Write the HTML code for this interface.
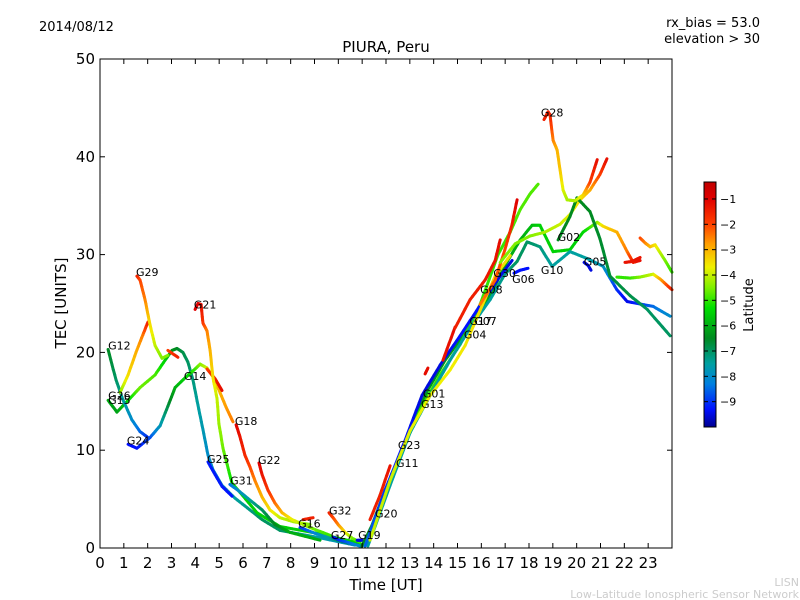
<!DOCTYPE html>
<html><head><meta charset="utf-8">
<style>
body{margin:0;background:#fff;}
svg{display:block;font-family:"DejaVu Sans","Liberation Sans",sans-serif;}
</style></head>
<body>
<svg id="chart" width="800" height="600" viewBox="0 0 800 600" xmlns="http://www.w3.org/2000/svg">
<rect x="0" y="0" width="800" height="600" fill="#fff"/>
<defs>
<linearGradient id="cbg" x1="0" y1="1" x2="0" y2="0">
<stop offset="0" stop-color="#000090"/>
<stop offset="0.072" stop-color="#0010ff"/>
<stop offset="0.176" stop-color="#0080e0"/>
<stop offset="0.259" stop-color="#00a0a0"/>
<stop offset="0.363" stop-color="#008a20"/>
<stop offset="0.487" stop-color="#00e000"/>
<stop offset="0.57" stop-color="#80f000"/>
<stop offset="0.653" stop-color="#f0f000"/>
<stop offset="0.746" stop-color="#ffa000"/>
<stop offset="0.829" stop-color="#ff4000"/>
<stop offset="0.932" stop-color="#e00000"/>
<stop offset="1" stop-color="#c00000"/>
</linearGradient>
</defs>
<text x="39" y="31" font-size="13">2014/08/12</text>
<text x="760" y="27" font-size="13" text-anchor="end">rx_bias = 53.0</text>
<text x="760" y="43" font-size="13" text-anchor="end">elevation &gt; 30</text>
<text x="386" y="52" font-size="15" text-anchor="middle">PIURA, Peru</text>
<g id="tracks"></g>
<g id="labels"></g>
<rect x="100" y="59" width="572" height="489" fill="none" stroke="#000" stroke-width="1"/>
<g id="axes"></g>
<text x="386" y="590" font-size="15" text-anchor="middle">Time [UT]</text>
<text x="0" y="0" font-size="15" text-anchor="middle" transform="translate(66,303) rotate(-90)">TEC [UNITS]</text>
<g>
<rect x="704" y="182" width="12" height="245" fill="url(#cbg)" stroke="#000" stroke-width="1"/>
<g id="cbticks"></g>
<text x="0" y="0" font-size="13" text-anchor="middle" transform="translate(753,305) rotate(-90)">Latitude</text>
</g>
<text x="799" y="586" font-size="11" fill="#ccc" text-anchor="end">LISN</text>
<text x="799" y="598" font-size="11" fill="#ccc" text-anchor="end">Low-Latitude Ionospheric Sensor Network</text>
</svg>
<script>
const xTicks = [0,1,2,3,4,5,6,7,8,9,10,11,12,13,14,15,16,17,18,19,20,21,22,23];
const yTicks = [0,10,20,30,40,50];
const cbTicks = [-1,-2,-3,-4,-5,-6,-7,-8,-9];
const latMin = -10, latMax = -0.33;

const trackG12 = {t:[0.34,0.67,0.97,1.34,1.68,2.01], v:[20.3,17.2,15.1,13.1,11.9,11.3], lat:[-6.5,-7,-7.5,-8,-8.5,-9]};
const trackG15 = {t:[0.34,0.71,1.18,1.68,2.31,2.73,3.02,3.23,3.48,3.69,3.9,4.11,4.32,4.53,4.74,5.12,5.66,6.29,6.8,7.55,9.11,10.7],
  v:[15.1,13.9,15.1,16.4,17.7,19.2,20.2,20.4,20.0,19.0,17.2,14.6,12.1,9.5,8.0,6.4,5.1,3.9,2.9,1.8,1.1,0.3],
  lat:[-6,-6.2,-5.5,-4.6,-4.8,-5.5,-6.3,-6.5,-6.8,-7,-7.2,-7.5,-7.7,-8,-8,-7.8,-7.5,-7.3,-7,-7,-7.5,-8]};
const trackG26 = {t:[0.84,1.18,1.51,1.8,2.01], v:[15.9,17.7,20.0,21.8,23.1], lat:[-4.5,-3.5,-3,-2.5,-1.5]};
const trackRedA = {t:[2.85,3.27], v:[20.2,19.5], lat:[-2,-1.5]};
const trackG29 = {t:[1.55,1.68,1.89,2.1,2.31,2.6,2.85], v:[27.8,27.4,25.4,22.8,20.7,19.4,19.7], lat:[-1.5,-2,-2.5,-3.5,-4,-4.5,-4.5]};
const trackG24 = {t:[1.18,1.55,2.1,2.52,2.85,3.15,3.57,3.99,4.2,4.49,4.74,5.0,5.29,5.58],
  v:[10.6,10.2,11.3,12.5,14.5,16.4,17.4,18.3,18.8,18.4,17.5,16.1,14.4,12.9],
  lat:[-9.3,-9.3,-8.8,-7.8,-6.8,-6,-5.5,-5,-4.5,-4,-3.5,-3,-2.8,-2.5]};
const trackRedB = {t:[4.49,4.83,5.12], v:[18.3,17.3,16.1], lat:[-2,-1.5,-1.2]};
const trackG21 = {t:[3.99,4.11,4.24,4.32,4.49,4.62,4.74,4.91,4.99,5.16,5.37,5.54,5.87,6.59,7.55,9.11,10.91],
  v:[24.4,25.0,24.9,23.0,22.2,20.2,17.4,15.3,12.7,10.2,8.2,6.6,5.7,3.6,2.2,1.5,0.5],
  lat:[-1,-1,-1.2,-1.8,-2.5,-3,-3.5,-4,-4.3,-4.6,-5,-5.3,-5.5,-5.5,-5.5,-5.5,-5.5]};
const trackG25 = {t:[4.53,4.83,5.12,5.54], v:[8.8,7.5,6.3,5.3], lat:[-9.2,-9.2,-9.2,-9.3]};
const trackG31 = {t:[5.45,5.79,6.29,6.8,7.34,7.97,9.23], v:[6.5,5.9,4.9,3.9,2.4,1.6,0.8], lat:[-8.5,-8,-7.5,-7,-6.5,-6,-6]};
const trackG18 = {t:[5.71,5.87,6.08,6.29,6.5,6.8,7.13,7.55,8.1,8.81], v:[12.6,11.4,9.5,8.3,6.9,5.2,3.9,3.1,2.7,2.4], lat:[-1,-1.3,-1.6,-2,-2.5,-3,-3.5,-4,-4.2,-4.5]};
const trackG22 = {t:[6.67,6.8,7.05,7.34,7.64,8.06,8.81,9.65], v:[8.7,7.5,5.9,4.6,3.6,2.9,2.1,1.3], lat:[-1,-1.3,-1.8,-2.3,-3,-3.7,-4.5,-5]};
const trackG16 = {t:[8.39,9.02,9.65,10.28,10.99], v:[2.1,1.5,1.0,0.6,0.2], lat:[-9,-8.2,-7.5,-6.5,-5.5]};
const trackRedC = {t:[8.52,8.94], v:[2.9,3.1], lat:[-1.5,-1.5]};
const trackG32 = {t:[9.61,9.78,9.99,10.28,10.58,10.91], v:[3.6,3.1,2.4,1.6,1.0,0.6], lat:[-1.5,-2,-2.5,-3.5,-4.5,-5]};
const trackG27 = {t:[9.78,10.07,10.49,10.91], v:[1.1,0.8,0.5,0.2], lat:[-9.5,-9,-8.5,-8]};
const trackG19 = {t:[10.79,11.0], v:[0.8,0.8], lat:[-9.5,-9.5]};
const trackG20 = {t:[11.33,11.75,12.17], v:[2.9,5.4,8.4], lat:[-1.5,-1.5,-1.3]};
const trackA = {t:[10.99,11.41,11.96,12.51,13.09,13.76,14.48,15.11,15.74,16.37,16.99,17.63,18.13,18.46,19.01,19.72,20.27,20.86,21.11,21.69,22.12,22.37,22.66],
  v:[0.2,2.3,5.9,9.0,12.6,16.2,19.2,21.3,23.5,25.8,28.9,31.5,33.0,33.0,30.3,30.5,32.3,33.3,32.9,32.3,30.3,29.2,29.4],
  lat:[-6.5,-6.5,-6.5,-6.5,-6.5,-6.3,-6.3,-6.2,-6,-6,-6,-6,-5.8,-5.5,-5.5,-5.5,-5.5,-4.5,-3.5,-3,-2.5,-1.5,-1.2]};
const trackB = {t:[11.12,11.75,12.59,13.43,14.27,15.11,15.95,16.7,17.21,17.63,18.04,18.38],
  v:[0.2,4.4,9.5,14.1,17.7,20.8,24.9,30.0,32.3,34.6,36.2,37.2], lat:[-5,-5,-5,-5,-5,-5,-5,-5,-4.9,-4.8,-4.8,-4.8]};
const trackC = {t:[11.12,11.96,12.8,13.51,14.27,15.11,15.95,16.79,17.29], v:[0.2,5.9,11.0,15.6,18.7,21.7,24.8,27.8,29.4], lat:[-8.5,-9,-9.3,-9.5,-9.5,-9.3,-9.3,-9.5,-9.5]};
const trackD = {t:[11.33,12.17,13.01,13.85,14.69,15.32,15.95,16.58,17.21], v:[0.8,6.9,12.0,15.6,18.2,20.7,24.3,27.8,29.9], lat:[-4,-4,-3.8,-3.7,-3.7,-3.6,-3.5,-3.5,-3.5]};
const trackE = {t:[11.24,12.17,13.01,13.85,14.69,15.53,16.37,16.99,17.5,17.92,18.46,18.97,19.72,20.44,21.11,21.69,22.12,23.21,23.92],
  v:[0.2,6.4,11.8,15.6,19.2,22.5,25.4,28.0,29.3,31.3,30.8,28.8,30.3,29.6,28.8,26.4,25.2,24.7,23.7],
  lat:[-7.5,-7.5,-7.5,-7.5,-7.5,-7.5,-7.5,-7.3,-7,-7,-7.2,-7.5,-7.5,-7.5,-7.8,-9,-9.5,-8.5,-8]};
const trackF = {t:[14.9,15.53,16.16,16.58,16.79], v:[22.5,25.4,27.4,29.4,31.5], lat:[-1.5,-1.5,-1.4,-1.3,-1.2]};
const trackRedD = {t:[14.39,14.9], v:[19.2,22.6], lat:[-1.3,-1.2]};
const trackRedE = {t:[13.64,13.76], v:[17.8,18.4], lat:[-1.2,-1.2]};
const trackG = {t:[15.95,16.58,16.99,17.29,17.5], v:[24.9,27.4,30.5,33.1,35.6], lat:[-2.5,-2.2,-2,-1.5,-1]};
const trackH = {t:[16.79,17.42,18.04,18.67,19.3,19.72,20.14,20.56,20.98,21.27], v:[29.2,31.1,31.9,32.3,33.1,34.1,35.6,36.6,38.2,39.8], lat:[-4.5,-4.5,-4.5,-4.2,-4,-3.8,-3.5,-3,-2,-1.2]};
const trackG02 = {t:[19.22,19.72,20.01,20.56,20.98,21.4,22.24,22.96,23.92], v:[31.5,33.9,35.8,34.4,31.6,27.8,25.8,24.4,21.7], lat:[-6.5,-6.5,-6.5,-6.5,-6.6,-6.7,-6.8,-7,-7]};
const trackG28 = {t:[18.63,18.8,18.88,19.01,19.18,19.3,19.43,19.6,19.93,20.27,20.56,20.86], v:[43.8,44.6,44.3,41.7,40.7,38.7,36.6,35.6,35.5,36.1,37.4,39.7], lat:[-1.5,-1.5,-1.5,-2.5,-3,-3.2,-3.8,-4.2,-4.2,-3.5,-2,-1.2]};
const trackG10 = {t:[17.37,17.63,17.96], v:[28.1,28.4,28.6], lat:[-9.3,-9.3,-9.3]};
const trackG05 = {t:[20.31,20.48,20.6], v:[29.2,28.9,28.4], lat:[-9.5,-9.5,-9.5]};
const trackR1 = {t:[22.66,22.87,23.08,23.29,23.5,23.71,24.0], v:[31.7,31.2,30.8,31.0,30.2,29.4,28.2], lat:[-2,-2.5,-3,-3.5,-4,-4.5,-5]};
const trackR2 = {t:[21.69,22.24,22.66,23.21,23.5,24.0], v:[27.7,27.6,27.7,28.0,27.5,26.4], lat:[-5,-5,-4.5,-4,-3,-1.5]};
const trackRedF = {t:[22.03,22.33,22.66], v:[29.2,29.3,29.7], lat:[-1.3,-1.3,-1.3]};

const tracks = [trackG15,trackG12,trackG26,trackG29,trackG24,trackRedB,trackRedA,trackG21,trackG25,trackG31,trackG18,trackG22,trackG16,trackRedC,trackG32,trackG27,trackG19,
  trackA,trackB,trackE,trackC,trackD,trackG20,trackRedE,trackRedD,trackF,trackG,trackH,trackG02,trackG28,trackG10,trackG05,trackR2,trackR1,trackRedF];
const trackNames = ['g15','g12','g26','g29','g24','red-a','red-b','g21','g25','g31','g18','g22','g16','red-c','g32','g27','g19',
  'a','b','e','c','d','g20','red-e','red-d','f','g','h','g02','g28','g10','g05','r2','r1','red-f'];

const labelNames = ['G29','G21','G12','G26','G15','G14','G18','G24','G25','G22','G31','G32','G16','G27','G19','G20','G11','G23','G13','G01','G04','G17','G07','G08','G30','G06','G10','G02','G05','G28'];
const labelT = [1.51,3.94,0.34,0.34,0.34,3.52,5.66,1.13,4.49,6.63,5.46,9.61,8.31,9.69,10.83,11.54,12.42,12.5,13.47,13.55,15.27,15.5,15.7,15.95,16.5,17.29,18.5,19.2,20.3,18.5];
const labelV = [27.8,24.5,20.3,15.2,14.7,17.2,12.6,10.6,8.7,8.6,6.5,3.4,2.1,0.9,0.9,3.1,8.3,10.1,14.3,15.4,21.4,22.8,22.8,26,27.7,27.1,28,31.4,28.9,44.1];

const X0=100, X1=672, Y0=548, Y1=59;
const xs = t => X0 + (t/24)*(X1-X0);
const ys = v => Y0 - (v/50)*(Y0-Y1);
const cbY = l => 427 - (l-latMin)/(latMax-latMin)*245;

const stops = [[-10,[0,0,144]],[-9.3,[0,16,255]],[-8.3,[0,128,224]],[-7.5,[0,160,160]],[-6.5,[0,138,32]],[-5.3,[0,224,0]],[-4.5,[128,240,0]],[-3.7,[240,240,0]],[-2.8,[255,160,0]],[-2,[255,64,0]],[-1,[224,0,0]],[-0.33,[192,0,0]]];
function cmap(l){
  if(l<=stops[0][0]) return 'rgb('+stops[0][1].join(',')+')';
  for(let i=1;i<stops.length;i++){
    if(l<=stops[i][0]){
      const a=stops[i-1],b=stops[i],f=(l-a[0])/(b[0]-a[0]);
      const c=a[1].map((x,k)=>Math.round(x+(b[1][k]-x)*f));
      return 'rgb('+c.join(',')+')';
    }
  }
  return 'rgb('+stops[stops.length-1][1].join(',')+')';
}
const NS='http://www.w3.org/2000/svg';
function mk(tag,attrs,parent){const e=document.createElementNS(NS,tag);for(const k in attrs)e.setAttribute(k,attrs[k]);parent.appendChild(e);return e;}

const tg=document.getElementById('tracks');
tracks.forEach((tr,ti)=>{
  const g=mk('g',{},tg);
  
  
  for(let i=0;i<tr.t.length-1;i++){
    const n=6;
    for(let s=0;s<n;s++){
      const f0=s/n,f1=(s+1)/n;
      const ta=tr.t[i]+(tr.t[i+1]-tr.t[i])*f0, tb=tr.t[i]+(tr.t[i+1]-tr.t[i])*f1;
      const va=tr.v[i]+(tr.v[i+1]-tr.v[i])*f0, vb=tr.v[i]+(tr.v[i+1]-tr.v[i])*f1;
      const la=tr.lat[i]+(tr.lat[i+1]-tr.lat[i])*(f0+f1)/2;
      const ln=mk('line',{x1:xs(ta).toFixed(1),y1:ys(va).toFixed(1),x2:xs(tb).toFixed(1),y2:ys(vb).toFixed(1),stroke:cmap(la),'stroke-width':3,'stroke-linecap':'round'},g);
      
      
    }
  }
});

const lg=document.getElementById('labels');
labelNames.forEach((nm,i)=>{
  const t=mk('text',{x:xs(labelT[i]).toFixed(1),y:ys(labelV[i]).toFixed(1),'font-size':11,fill:'#000'},lg);
  
  
  t.textContent=nm;
});

const ag=document.getElementById('axes');
xTicks.forEach(v=>{
  const x=xs(v);
  const a=mk('line',{x1:x,y1:Y0,x2:x,y2:Y0-5,stroke:'#000'},ag);
  
  
  const b=mk('line',{x1:x,y1:Y1,x2:x,y2:Y1+5,stroke:'#000'},ag);
  
  
  const t=mk('text',{x:x,y:568,'font-size':15,'text-anchor':'middle'},ag);
  
  
  t.textContent=v;
});
yTicks.forEach(v=>{
  const y=ys(v);
  const a=mk('line',{x1:X0,y1:y,x2:X0+5,y2:y,stroke:'#000'},ag);
  
  
  const b=mk('line',{x1:X1,y1:y,x2:X1-5,y2:y,stroke:'#000'},ag);
  
  
  const t=mk('text',{x:95,y:y+5,'font-size':15,'text-anchor':'end'},ag);
  
  
  t.textContent=v;
});
const cg=document.getElementById('cbticks');
cbTicks.forEach(v=>{
  const y=cbY(v);
  const a=mk('line',{x1:704,y1:y,x2:708,y2:y,stroke:'#000'},cg);
  
  
  const b=mk('line',{x1:716,y1:y,x2:712,y2:y,stroke:'#000'},cg);
  
  
  const t=mk('text',{x:720,y:y+4,'font-size':11},cg);
  
  
  t.textContent='\u2212'+Math.abs(v);
});
</script>
</body></html>
